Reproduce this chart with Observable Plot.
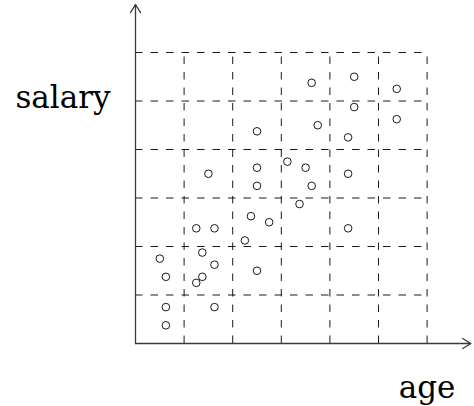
<!DOCTYPE html>
<html>
<head>
<meta charset="utf-8">
<script src="https://cdn.jsdelivr.net/npm/d3@7"></script>
<script src="https://cdn.jsdelivr.net/npm/@observablehq/plot@0.6"></script>
<style>
  html, body { margin: 0; padding: 0; background: #fff; }
  #chart svg { display: block; }
</style>
</head>
<body>
<div id="chart"></div>
<script>
// Employee age vs salary (arbitrary units), one circle per person
const ages = [
  3.625, 4.5, 5.375, 4.5, 5.375, 3.75, 2.5, 4.375,
  3.125, 3.5, 2.5, 1.5, 4.375, 2.5, 3.625, 3.375,
  2.375, 2.75, 1.25, 1.625, 4.375, 2.25, 0.5, 1.375,
  1.625, 0.625, 1.375, 1.25, 2.5, 0.625, 1.625, 0.625
];
const salaries = [
  5.375, 5.5, 5.25, 4.875, 4.625, 4.5, 4.375, 4.25,
  3.75, 3.625, 3.625, 3.5, 3.5, 3.25, 3.25, 2.875,
  2.625, 2.5, 2.375, 2.375, 2.375, 2.125, 1.75, 1.875,
  1.625, 1.375, 1.375, 1.25, 1.5, 0.75, 0.75, 0.375
];
// Grid lines every unit
const gridTicks = [1, 2, 3, 4, 5, 6];
// Axis names
const xName = "age";
const yName = "salary";

const people = ages.map((a, i) => ({age: a, salary: salaries[i]}));
const gridMax = d3.max(gridTicks);

const serif = "'DejaVu Serif', serif";

const chart = Plot.plot({
  width: 474,
  height: 406,
  x: {domain: [0, gridMax], range: [135, 426.6], axis: null},
  y: {domain: [0, gridMax], range: [343, 52], axis: null},
  marks: [
    // dashed grid
    Plot.ruleX(gridTicks, {x: d => d, y1: 0, y2: gridMax, stroke: "#000", strokeWidth: 0.9, strokeDasharray: "7.5,8"}),
    Plot.ruleY(gridTicks, {y: d => d, x1: 0, x2: gridMax, stroke: "#000", strokeWidth: 0.9, strokeDasharray: "7.5,8"}),
    // axes with open arrow heads
    Plot.arrow([{x1: 0, y1: 0, x2: 0, y2: 6.99}, {x1: 0, y1: 0, x2: 6.9, y2: 0}], {
      x1: "x1", y1: "y1", x2: "x2", y2: "y2",
      stroke: "#3a3a3a", strokeWidth: 1.3, headLength: 11, headAngle: 64
    }),
    // data points
    Plot.dot(people, {x: "age", y: "salary", r: 3.8, stroke: "#000", strokeWidth: 0.9, fill: "none"}),
    // axis names
    Plot.text([{x: 0, y: 5, t: yName}], {
      x: "x", y: "y", text: "t", textAnchor: "end", lineAnchor: "bottom",
      dx: -25, dy: 7, fontSize: 31, fontFamily: serif, fill: "#000"
    }),
    Plot.text([{x: gridMax, y: 0, t: xName}], {
      x: "x", y: "y", text: "t", textAnchor: "middle", lineAnchor: "bottom",
      dy: 54, fontSize: 31, fontFamily: serif, fill: "#000"
    })
  ]
});

document.getElementById("chart").appendChild(chart);
</script>
</body>
</html>
